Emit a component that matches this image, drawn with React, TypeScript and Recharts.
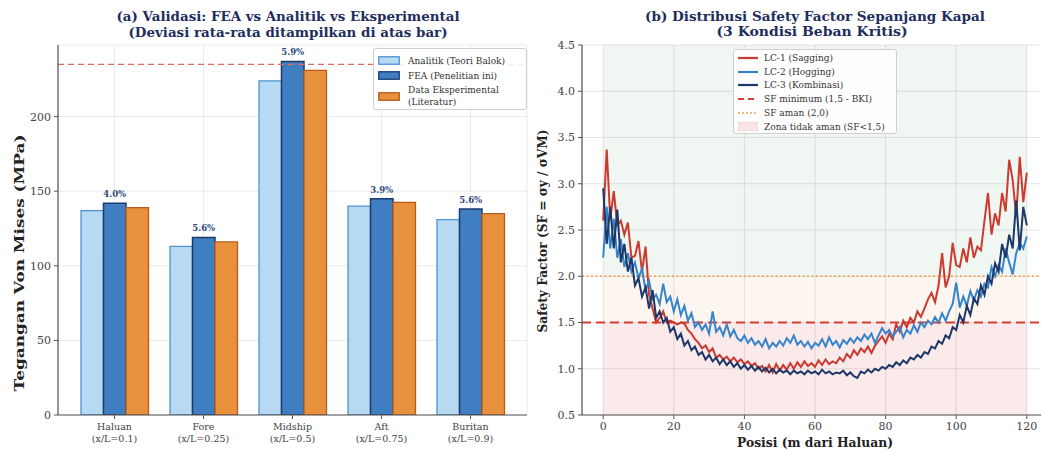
import {
  Bar,
  BarChart,
  CartesianGrid,
  LabelList,
  Line,
  LineChart,
  ReferenceArea,
  ReferenceLine,
  XAxis,
  YAxis,
} from "recharts";

const FONT = '"DejaVu Serif", serif';
const NAVY_TEXT = "#1e2d5c";
const AXIS = "#555";
const TICK = "#444";

// (a) validasi tegangan
const kategori = ["Haluan", "Fore", "Midship", "Aft", "Buritan"];
const rasioXL = ["(x/L=0.1)", "(x/L=0.25)", "(x/L=0.5)", "(x/L=0.75)", "(x/L=0.9)"];
const analitik = [137, 113, 224, 140, 131];
const fea = [142, 119, 237, 145, 138];
const eksperimen = [139, 116, 231, 142.5, 135];
const deviasi = ["4.0%", "5.6%", "5.9%", "3.9%", "5.6%"];
const tegLuluh = 235;
const ticksTegangan = [0, 50, 100, 150, 200];

// (b) safety factor sepanjang kapal, satu titik per meter
const lc1 = [
  2.6, 3.37, 2.62, 2.92, 2.55, 2.6, 2.45, 2.58, 2.2, 2.22, 2.38, 2.05, 2.32, 1.8, 1.65, 1.5,
  1.55, 1.62, 1.5, 1.52, 1.5, 1.48, 1.5, 1.49, 1.42, 1.38, 1.32, 1.28, 1.22, 1.25, 1.18, 1.22,
  1.12, 1.15, 1.1, 1.13, 1.08, 1.12, 1.07, 1.1, 1.05, 1.08, 1.03, 1.06, 1.0, 1.03, 0.97, 1.04,
  0.96, 1.05, 0.98, 1.04, 0.99, 1.06, 1.0, 1.07, 1.02, 1.08, 1.03, 1.06, 1.02, 1.09, 1.04, 1.1,
  1.05, 1.08, 1.06, 1.12, 1.08, 1.16, 1.12, 1.2, 1.15, 1.22, 1.18, 1.24, 1.17, 1.25, 1.3, 1.35,
  1.28, 1.38, 1.32, 1.48, 1.4, 1.52, 1.45, 1.55, 1.5, 1.62, 1.56, 1.65, 1.75, 1.82, 1.72, 1.9,
  2.25, 1.88, 2.0, 2.36, 2.12, 2.1, 2.3, 2.15, 2.42, 2.2, 2.32, 2.28, 2.6, 2.9, 2.45, 2.68,
  2.55, 2.9, 2.7, 3.26, 3.04, 2.64, 3.29, 2.8, 3.12,
];
const lc2 = [
  2.2, 2.75, 2.3, 2.62, 2.2, 2.4, 2.1, 2.25, 2.05, 2.15, 1.98, 2.08, 1.85, 1.95, 1.75, 1.8,
  1.7, 1.92, 1.72, 1.78, 1.62, 1.75, 1.58, 1.68, 1.52, 1.6, 1.45, 1.5, 1.42, 1.48, 1.38, 1.62,
  1.4, 1.45, 1.36, 1.48, 1.35, 1.42, 1.33, 1.3, 1.36, 1.28, 1.33, 1.26, 1.3, 1.24, 1.32, 1.22,
  1.28, 1.24, 1.3, 1.25, 1.33, 1.28, 1.36, 1.26, 1.3, 1.24, 1.29, 1.22, 1.28, 1.25, 1.32, 1.24,
  1.34, 1.26, 1.3, 1.23, 1.31, 1.27, 1.33, 1.28, 1.34, 1.3, 1.37, 1.32, 1.38, 1.28, 1.36, 1.44,
  1.38, 1.42, 1.35, 1.4, 1.45, 1.34, 1.42, 1.38, 1.47, 1.4, 1.5, 1.45, 1.52, 1.48, 1.56, 1.5,
  1.6, 1.52, 1.62, 1.7, 1.93, 1.66, 1.78, 1.68, 1.84, 1.74, 1.85, 1.78, 1.92, 1.88, 2.1, 2.0,
  2.12, 2.05, 2.3, 2.15, 2.02, 2.25, 2.36, 2.3, 2.43,
];
const lc3 = [
  2.95, 2.35, 2.75, 2.3, 2.72, 2.15, 2.35, 2.05, 2.2, 1.9, 1.98, 1.78, 1.88, 1.65, 1.85, 1.55,
  1.62, 1.5, 1.55, 1.4, 1.45, 1.32, 1.38, 1.25, 1.3, 1.2, 1.24, 1.15, 1.18, 1.1, 1.15, 1.08,
  1.12, 1.05, 1.1, 1.04, 1.08, 1.02, 1.06, 1.0, 1.04, 0.99, 1.03, 0.98, 1.02, 0.97, 1.01, 0.96,
  1.0, 0.95, 0.99, 0.96, 0.98, 0.94, 0.98, 0.95, 0.97, 0.94, 0.98, 0.95, 0.97, 0.94, 0.99, 0.95,
  0.97, 0.94, 0.96, 0.95, 0.98, 0.93, 0.96, 0.92, 0.9, 0.97, 0.95, 0.99, 0.96, 1.0, 0.98, 1.02,
  1.0, 1.04, 1.02, 1.07, 1.04, 1.09, 1.06, 1.12, 1.1, 1.15, 1.12, 1.18, 1.16, 1.24, 1.22, 1.3,
  1.27, 1.36, 1.33, 1.45, 1.42, 1.58, 1.5, 1.68, 1.58, 1.76, 1.7, 1.9, 1.8, 2.0, 1.92, 2.14,
  2.05, 2.35, 2.2, 2.45, 2.3, 2.82, 2.28, 2.75, 2.55,
];
const sfMinimum = 1.5;
const sfAman = 2.0;
const ticksPosisi = [0, 20, 40, 60, 80, 100, 120];
const ticksSF = [0.5, 1.0, 1.5, 2.0, 2.5, 3.0, 3.5, 4.0, 4.5];

const C_ANALITIK = "#b7d9f1";
const C_ANALITIK_EDGE = "#4f93d2";
const C_FEA = "#3f7fc1";
const C_FEA_EDGE = "#1b3b6f";
const C_EKS = "#e8913c";
const C_EKS_EDGE = "#b85a1c";
const C_LC1 = "#cc3a2f";
const C_LC2 = "#3584cc";
const C_LC3 = "#1c3768";

const barData = kategori.map((k, i) => ({
  kategori: k,
  analitik: analitik[i],
  fea: fea[i],
  eksperimen: eksperimen[i],
  deviasi: deviasi[i],
}));

const lineData = lc1.map((v, i) => ({ posisi: i, lc1: v, lc2: lc2[i], lc3: lc3[i] }));

function KategoriTick({ x, y, payload }: any) {
  const idx = payload.index ?? kategori.indexOf(payload.value);
  return (
    <g>
      <text x={x} y={y + 9} textAnchor="middle" fontSize={9.5} fontFamily={FONT} fill={TICK}>
        {payload.value}
      </text>
      <text x={x} y={y + 21} textAnchor="middle" fontSize={9.5} fontFamily={FONT} fill={TICK}>
        {rasioXL[idx]}
      </text>
    </g>
  );
}

function DeviasiLabel({ x, y, width, value }: any) {
  return (
    <text
      x={x + width / 2}
      y={y - 6}
      textAnchor="middle"
      fontSize={8.5}
      fontWeight="bold"
      fontFamily={FONT}
      fill="#2b4a7e"
    >
      {value}
    </text>
  );
}

const tickStyle = { fill: TICK, fontSize: 11, fontFamily: FONT };

function Patch({ fill, stroke }: { fill: string; stroke: string }) {
  return (
    <svg width={22} height={9} style={{ flex: "none" }}>
      <rect x={0.75} y={0.75} width={20.5} height={7.5} fill={fill} stroke={stroke} strokeWidth={1.3} />
    </svg>
  );
}

function Sample({ color, dash, width = 2.2 }: { color: string; dash?: string; width?: number }) {
  return (
    <svg width={20} height={8} style={{ flex: "none" }}>
      <line x1={0} y1={4} x2={20} y2={4} stroke={color} strokeWidth={width} strokeDasharray={dash} />
    </svg>
  );
}

const legendBox: React.CSSProperties = {
  position: "absolute",
  border: "1px solid #cfcfcf",
  borderRadius: 3,
  background: "rgba(255,255,255,0.88)",
  fontFamily: FONT,
  fontSize: 9,
  color: "#333",
  boxSizing: "border-box",
};

const row: React.CSSProperties = { display: "flex", alignItems: "center", gap: 8 };

export default function App() {
  return (
    <div
      style={{
        position: "absolute",
        left: 0,
        top: 0,
        width: 1041,
        height: 450,
        overflow: "hidden",
        background: "#fff",
      }}
    >
      <div style={{ position: "absolute", left: 0, top: 0 }}>
        <BarChart
          width={530}
          height={450}
          data={barData}
          margin={{ top: 45, right: 3, bottom: 0, left: 0 }}
          barGap={0}
          barSize={22.5}
        >
          <CartesianGrid stroke="#ebebeb" />
          <XAxis
            dataKey="kategori"
            height={35}
            padding={{ left: 12, right: 12 }}
            tick={<KategoriTick />}
            tickLine={{ stroke: AXIS }}
            tickSize={4}
            axisLine={{ stroke: AXIS, strokeWidth: 1.2 }}
            interval={0}
          />
          <YAxis
            width={58}
            domain={[0, 248]}
            ticks={ticksTegangan}
            allowDataOverflow
            tick={tickStyle}
            tickSize={4}
            tickMargin={3}
            tickLine={{ stroke: AXIS }}
            axisLine={{ stroke: AXIS, strokeWidth: 1.2 }}
          />
          <ReferenceLine
            y={tegLuluh}
            stroke="#e06a62"
            strokeDasharray="6 4"
            strokeWidth={1.3}
          />
          <Bar
            dataKey="analitik"
            fill={C_ANALITIK}
            stroke={C_ANALITIK_EDGE}
            strokeWidth={1.3}
            isAnimationActive={false}
          />
          <Bar
            dataKey="fea"
            fill={C_FEA}
            stroke={C_FEA_EDGE}
            strokeWidth={1.5}
            isAnimationActive={false}
          >
            <LabelList dataKey="deviasi" content={<DeviasiLabel />} />
          </Bar>
          <Bar
            dataKey="eksperimen"
            fill={C_EKS}
            stroke={C_EKS_EDGE}
            strokeWidth={1.3}
            isAnimationActive={false}
          />
        </BarChart>
      </div>

      <div style={{ position: "absolute", left: 530, top: 0 }}>
        <LineChart
          width={530}
          height={450}
          data={lineData}
          margin={{ top: 45, right: 12, bottom: 0, left: 0 }}
        >
          <ReferenceArea x1={0} x2={120} y1={sfAman} y2={4.5} fill="#3a9a6a" fillOpacity={0.08} stroke="none" />
          <ReferenceArea x1={0} x2={120} y1={sfMinimum} y2={sfAman} fill="#f0a060" fillOpacity={0.1} stroke="none" />
          <ReferenceArea x1={0} x2={120} y1={0.5} y2={sfMinimum} fill="#d94040" fillOpacity={0.11} stroke="none" />
          <CartesianGrid stroke="#dedede" strokeOpacity={0.8} />
          <XAxis
            dataKey="posisi"
            type="number"
            domain={[-6, 126]}
            ticks={ticksPosisi}
            height={35}
            tick={tickStyle}
            tickSize={4}
            tickMargin={3}
            tickLine={{ stroke: AXIS }}
            axisLine={{ stroke: AXIS, strokeWidth: 1.2 }}
          />
          <YAxis
            width={52}
            domain={[0.5, 4.5]}
            ticks={ticksSF}
            allowDataOverflow
            tickFormatter={(v: number) => v.toFixed(1)}
            tick={tickStyle}
            tickSize={4}
            tickMargin={3}
            tickLine={{ stroke: AXIS }}
            axisLine={{ stroke: AXIS, strokeWidth: 1.2 }}
          />
          <ReferenceLine y={sfAman} stroke="#f0a04b" strokeDasharray="2 2.5" strokeWidth={1.5} />
          <ReferenceLine y={sfMinimum} stroke="#d63c32" strokeDasharray="9 5" strokeWidth={2} />
          <Line dataKey="lc1" stroke={C_LC1} strokeWidth={2} dot={false} isAnimationActive={false} />
          <Line dataKey="lc2" stroke={C_LC2} strokeWidth={2} dot={false} isAnimationActive={false} />
          <Line dataKey="lc3" stroke={C_LC3} strokeWidth={2} dot={false} isAnimationActive={false} />
        </LineChart>
      </div>

      <svg
        width={1041}
        height={450}
        style={{ position: "absolute", left: 0, top: 0, pointerEvents: "none" }}
        fontFamily={FONT}
        fontWeight="bold"
      >
        <g fill={NAVY_TEXT} fontSize={12}>
          <text x={288} y={17} textAnchor="middle" dominantBaseline="central" textLength={343} lengthAdjust="spacingAndGlyphs">
            (a) Validasi: FEA vs Analitik vs Eksperimental
          </text>
          <text x={288} y={33} textAnchor="middle" dominantBaseline="central" textLength={319} lengthAdjust="spacingAndGlyphs">
            (Deviasi rata-rata ditampilkan di atas bar)
          </text>
          <text x={815} y={17} textAnchor="middle" dominantBaseline="central" textLength={340} lengthAdjust="spacingAndGlyphs">
            (b) Distribusi Safety Factor Sepanjang Kapal
          </text>
          <text x={812} y={32} textAnchor="middle" dominantBaseline="central" textLength={191} lengthAdjust="spacingAndGlyphs">
            (3 Kondisi Beban Kritis)
          </text>
        </g>
        <g fill="#222">
          <text
            x={19}
            y={263}
            fontSize={13.5}
            textAnchor="middle"
            dominantBaseline="central"
            transform="rotate(-90 19 263)"
            textLength={257}
            lengthAdjust="spacingAndGlyphs"
          >
            Tegangan Von Mises (MPa)
          </text>
          <text
            x={543}
            y={231}
            fontSize={12}
            textAnchor="middle"
            dominantBaseline="central"
            transform="rotate(-90 543 231)"
            textLength={203}
            lengthAdjust="spacingAndGlyphs"
          >
            Safety Factor (SF = σy / σVM)
          </text>
          <text x={815} y={443} fontSize={12} textAnchor="middle" dominantBaseline="central" textLength={156} lengthAdjust="spacingAndGlyphs">
            Posisi (m dari Haluan)
          </text>
        </g>
      </svg>

      <div style={{ ...legendBox, left: 373, top: 48, width: 154, height: 62, padding: "4px 4px 0 4px" }}>
        <div style={{ ...row, height: 15 }}>
          <Patch fill={C_ANALITIK} stroke={C_ANALITIK_EDGE} />
          <span>Analitik (Teori Balok)</span>
        </div>
        <div style={{ ...row, height: 15 }}>
          <Patch fill={C_FEA} stroke={C_FEA_EDGE} />
          <span>FEA (Penelitian ini)</span>
        </div>
        <div style={{ ...row, height: 26 }}>
          <Patch fill={C_EKS} stroke={C_EKS_EDGE} />
          <span style={{ lineHeight: "12px" }}>
            Data Eksperimental
            <br />
            (Literatur)
          </span>
        </div>
      </div>

      <div style={{ ...legendBox, left: 733, top: 49, width: 164, height: 85, padding: "1px 4px 0 4px" }}>
        <div style={{ ...row, gap: 6, height: 13.8 }}>
          <Sample color={C_LC1} />
          <span>LC-1 (Sagging)</span>
        </div>
        <div style={{ ...row, gap: 6, height: 13.8 }}>
          <Sample color={C_LC2} />
          <span>LC-2 (Hogging)</span>
        </div>
        <div style={{ ...row, gap: 6, height: 13.8 }}>
          <Sample color={C_LC3} />
          <span>LC-3 (Kombinasi)</span>
        </div>
        <div style={{ ...row, gap: 6, height: 13.8 }}>
          <Sample color="#d63c32" dash="6 4" />
          <span>SF minimum (1,5 - BKI)</span>
        </div>
        <div style={{ ...row, gap: 6, height: 13.8 }}>
          <Sample color="#f0a04b" dash="2 2" width={1.5} />
          <span>SF aman (2,0)</span>
        </div>
        <div style={{ ...row, gap: 6, height: 13.8 }}>
          <svg width={20} height={9} style={{ flex: "none" }}>
            <rect x={0} y={0} width={20} height={9} fill="#d94040" fillOpacity={0.13} stroke="#e8b5b5" strokeWidth={0.5} />
          </svg>
          <span>Zona tidak aman (SF&lt;1,5)</span>
        </div>
      </div>
    </div>
  );
}
